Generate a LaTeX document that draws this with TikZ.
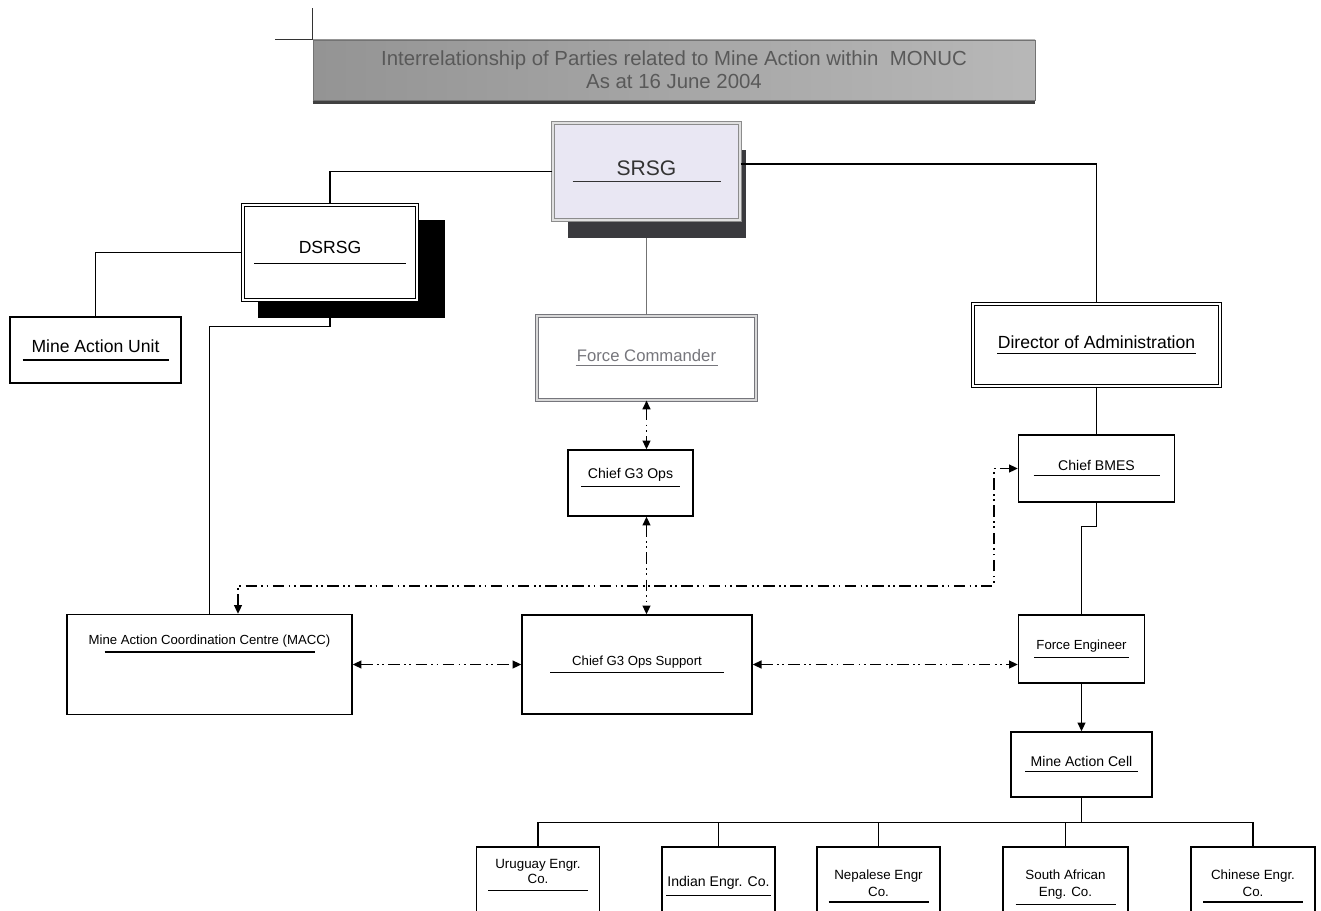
\documentclass[tikz,border=0pt]{standalone}
\usepackage{fontspec}
\setmainfont{Liberation Sans}
\usetikzlibrary{positioning,arrows.meta,backgrounds}

\definecolor{srsgfill}{RGB}{233,231,243}
\definecolor{shadowgray}{RGB}{58,58,62}
\definecolor{fcgray}{RGB}{118,118,124}
\newcommand{\boxline}[3][2.3pt]{\vtop{\hbox to #2{\hss#3\hss}\kern#1\hrule height 0.7pt}}

\begin{document}
\begin{tikzpicture}[
    node distance=2cm,
    on grid,
    >={Triangle[length=5pt,width=4.5pt]},
    box/.style={draw, line width=0.8pt, fill=white, rectangle, align=center, inner sep=1pt},
    dbox/.style={box, double=white, double distance=1pt, line width=0.6pt},
    lbl/.style={align=center, inner sep=0pt},
    fs/.style={font=\fontsize{#1}{#1}\selectfont},
    titlebar/.style={draw=black!55, line width=0.5pt, left color=black!42, middle color=black!8,
        right color=black!28, minimum width=14.44cm, minimum height=1.2cm, align=center,
        text=black!65, font=\fontsize{11.6}{13}\selectfont},
    link/.style={line width=0.8pt},
    dd/.style={line width=0.9pt, dash pattern=on 6.5pt off 2.5pt on 1pt off 2pt on 1pt off 2.5pt}]
  \clip (0,0) rectangle (26.42,-18.22);

  % heading
  \node[titlebar] (title) at (13.48,-1.4)
    {Interrelationship of Parties related to Mine Action within\ \ MONUC\\As at 16 June 2004};
  \draw[black!80] (title.north west) -- ++(0,0.64);
  \draw[black!80] (title.north west) -- ++(-0.76,0);
  \draw[line width=2.2pt, black!75] ([yshift=-1.2pt]title.south west) -- ([yshift=-1.2pt]title.south east);

  % top of the tree
  \node[dbox, fs=12, draw=black!45, double=black!12, fill=srsgfill, text=black!80,
        minimum width=3.74cm, minimum height=1.94cm] (srsg) at (12.93,-3.43) {\boxline[3pt]{2.96cm}{SRSG}};
  \node[dbox, fs=10, minimum width=3.48cm, minimum height=1.9cm] (dsrsg)
        [below left=1.62cm and 6.33cm of srsg] {\boxline[5.5pt]{3.04cm}{DSRSG}};
  \node[box, fs=10, minimum width=3.42cm, minimum height=1.32cm] (mau)
        [below left=1.95cm and 4.69cm of dsrsg] {\boxline[4pt]{2.92cm}{Mine Action Unit}};
  \node[dbox, fs=9.5, draw=fcgray, double=black!15, text=fcgray, minimum width=4.38cm, minimum height=1.68cm] (fc)
        [below=3.73cm of srsg] {\boxline[1.7pt]{2.84cm}{Force Commander}};
  \node[dbox, fs=10, minimum width=4.94cm, minimum height=1.64cm] (doa)
        [below right=3.47cm and 9cm of srsg] {\boxline[2pt]{3.98cm}{Director of Administration}};

  \begin{scope}[on background layer]
    \node[fill=shadowgray, minimum width=3.56cm, minimum height=1.76cm] (srsg-sh)
          [below right=0.45cm and 0.21cm of srsg] {};
    \node[fill=black, minimum width=3.74cm, minimum height=1.96cm] (dsrsg-sh)
          [below right=0.33cm and 0.43cm of dsrsg] {};
  \end{scope}

  % middle
  \node[box, fs=8, text depth=10.4pt, minimum width=2.5cm, minimum height=1.32cm] (g3)
        [below left=2.5cm and 0.32cm of fc] {\boxline{1.98cm}{Chief G3 Ops}};
  \node[box, fs=8, minimum width=3.12cm, minimum height=1.34cm] (bmes)
        [below=2.47cm of doa] {\boxline{2.52cm}{Chief BMES}};
  \node[box, fs=7.5, minimum width=4.6cm, minimum height=1.98cm] (g3s)
        [below right=3.63cm and 0.13cm of g3] {\boxline{3.48cm}{Chief G3 Ops Support}};
  \node[box, minimum width=5.7cm, minimum height=2cm] (macc) [left=8.55cm of g3s] {};
  \node[lbl, fs=7.5] (macc-t) [below=0.42cm of macc.north]
        {\boxline{4.2cm}{Mine Action Coordination Centre (MACC)}};
  \node[box, fs=7.5, minimum width=2.52cm, minimum height=1.36cm] (fe)
        [below left=3.61cm and 0.3cm of bmes] {\boxline{1.9cm}{Force Engineer}};
  \node[box, fs=8, minimum width=2.82cm, minimum height=1.3cm] (mac)
        [below=2.31cm of fe] {\boxline{2.26cm}{Mine Action Cell}};

  % engineer companies
  \node[box, minimum width=2.46cm, minimum height=2cm] (uru) [below left=2.65cm and 10.87cm of mac] {};
  \node[box, minimum width=2.26cm, minimum height=2cm] (ind) [right=3.61cm of uru] {};
  \node[box, minimum width=2.46cm, minimum height=2cm] (nep) [right=3.2cm of ind] {};
  \node[box, minimum width=2.5cm, minimum height=2cm] (saf) [right=3.74cm of nep] {};
  \node[box, minimum width=2.48cm, minimum height=2cm] (chn) [right=3.75cm of saf] {};
  \node[lbl, font=\fontsize{7.6}{8.6}\selectfont] (uru-t) [below=0.26cm of uru.north] {Uruguay Engr.\\\boxline[3.2pt]{2cm}{Co.}};
  \node[lbl, font=\fontsize{8}{9.5}\selectfont] (ind-t) [below=0.6cm of ind.north] {\boxline[3pt]{2.1cm}{Indian Engr. Co.}};
  \node[lbl, font=\fontsize{7.6}{9.5}\selectfont] (nep-t) [below=0.46cm of nep.north] {Nepalese Engr\\\boxline[3pt]{2cm}{Co.}};
  \node[lbl, font=\fontsize{7.6}{9.5}\selectfont] (saf-t) [below=0.46cm of saf.north] {South African\\\boxline[3pt]{2cm}{Eng. Co.}};
  \node[lbl, font=\fontsize{7.6}{9.5}\selectfont] (chn-t) [below=0.46cm of chn.north] {Chinese Engr.\\\boxline[3pt]{2cm}{Co.}};

  % lines
  \draw[link] (srsg.west) -| (dsrsg.north);
  \draw[link] ([yshift=0.15cm]srsg.east) -| (doa.north);
  \draw[link, black!55] (srsg-sh.south -| srsg.south) -- (fc.north);
  \draw[link] (dsrsg.west) -| (mau.north);
  \draw[link] (dsrsg-sh.south -| dsrsg.north) -- ++(0,-0.16) -| (macc.north);
  \draw[link] (doa.south) -- (bmes.north);
  \draw[link] (bmes.south) -- ++(0,-0.48) -| (fe.north);
  \draw[link, ->] (fe.south) -- (mac.north);
  \foreach \co in {uru,ind,nep,saf,chn}
    \draw[link] (mac.south) -- ++(0,-0.5) -| (\co.north);

  \draw[dd, <->] (fc.south) -- (fc.south |- g3.north);
  \draw[dd, <->] (fc.south |- g3.south) -- (fc.south |- g3s.north);
  \draw[dd, <->] (macc.east |- g3s.west) -- (g3s.west);
  \draw[dd, <->] (g3s.east) -- (g3s.east -| fe.west);
  \draw[dd, <->] ([xshift=0.57cm]macc.north) -- ++(0,0.56) -| ([xshift=-0.48cm]bmes.west) -- (bmes.west);
\end{tikzpicture}
\end{document}
